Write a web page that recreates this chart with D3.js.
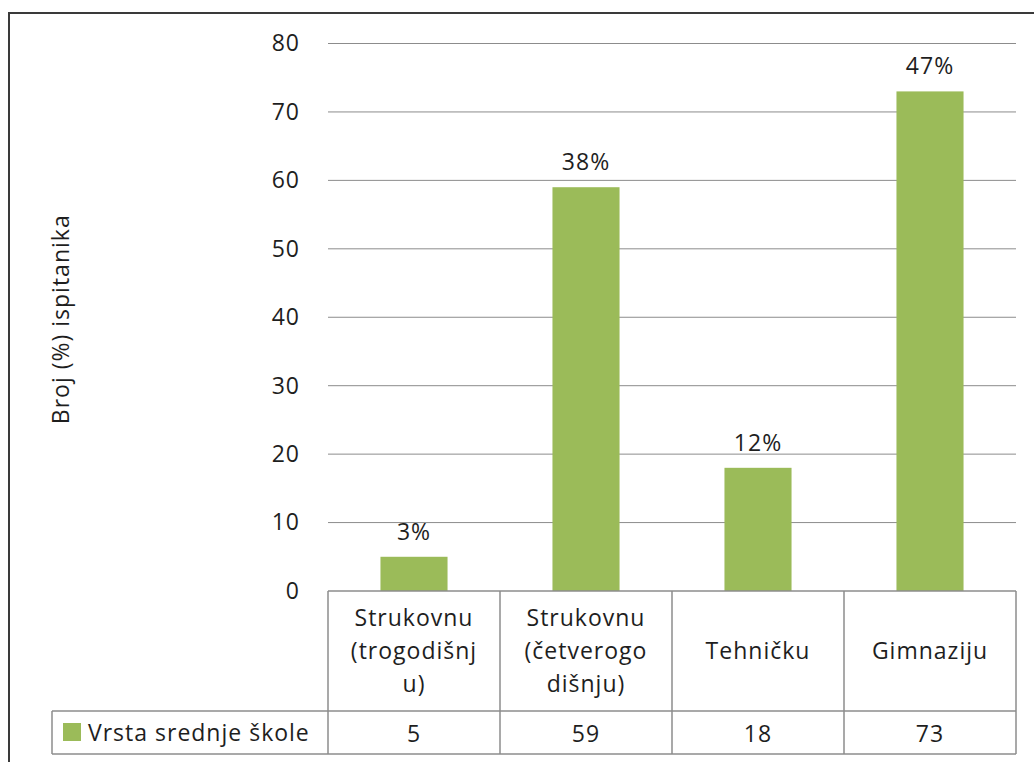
<!DOCTYPE html>
<html>
<head>
<meta charset="utf-8">
<script src="https://cdn.jsdelivr.net/npm/d3@7"></script>
<style>
  body { margin: 0; background: #fff; }
  text { font-family: "Open Sans", Lato, sans-serif; fill: #1e1e1e; letter-spacing: 1px; }
</style>
</head>
<body>
<svg id="chart" width="1034" height="762"></svg>
<script>
// chart values
const categories = [
  ["Strukovnu", "(trogodišnj", "u)"],
  ["Strukovnu", "(četverogo", "dišnju)"],
  ["Tehničku"],
  ["Gimnaziju"]
];
const values = [5, 59, 18, 73];
const percentLabels = ["3%", "38%", "12%", "47%"];
const yTicks = [0, 10, 20, 30, 40, 50, 60, 70, 80];
const seriesName = "Vrsta srednje škole";
const yTitle = "Broj (%) ispitanika";

const green = "#9bbb59";
const gridColor = "#8c8c8c";
const fs = "23px";

const svg = d3.select("#chart");

// outer chart border (runs off the right/bottom edge like the screenshot)
svg.append("rect")
  .attr("x", 9).attr("y", 13)
  .attr("width", 1060).attr("height", 800)
  .attr("fill", "none").attr("stroke", "#3a3a3a").attr("stroke-width", 2);

const plot = { left: 328, right: 1016, top: 43.5, bottom: 591 };
const tableBottom = { header: 711, data: 754 };

const x = d3.scaleBand()
  .domain(d3.range(values.length))
  .range([plot.left, plot.right])
  .paddingInner(0).paddingOuter(0);

const y = d3.scaleLinear().domain([0, 80]).range([plot.bottom, plot.top]);

// gridlines
svg.append("g")
  .selectAll("line")
  .data(yTicks.filter(d => d > 0))
  .join("line")
  .attr("x1", plot.left).attr("x2", plot.right)
  .attr("y1", d => y(d)).attr("y2", d => y(d))
  .attr("stroke", gridColor).attr("stroke-width", 1);

// y axis labels
const yAxis = svg.append("g")
  .attr("transform", `translate(300,0)`)
  .call(d3.axisLeft(y).tickValues(yTicks).tickSize(0).tickPadding(0));
yAxis.select(".domain").remove();
yAxis.selectAll("text")
  .style("font-size", fs)
  .style("font-family", "'Open Sans', Lato, sans-serif")
  .attr("fill", "#1e1e1e");

// y title
svg.append("text")
  .attr("transform", `translate(69,${(plot.top + plot.bottom) / 2 + 2}) rotate(-90)`)
  .attr("text-anchor", "middle")
  .style("font-size", fs)
  .text(yTitle);

// bars
const barW = x.bandwidth() * 0.39;
svg.append("g")
  .selectAll("rect")
  .data(values)
  .join("rect")
  .attr("x", (d, i) => x(i) + (x.bandwidth() - barW) / 2)
  .attr("y", d => y(d))
  .attr("width", barW)
  .attr("height", d => y(0) - y(d))
  .attr("fill", green);

// percent labels
svg.append("g")
  .selectAll("text")
  .data(values)
  .join("text")
  .attr("x", (d, i) => x(i) + x.bandwidth() / 2)
  .attr("y", d => y(d) - 17)
  .attr("text-anchor", "middle")
  .style("font-size", fs)
  .text((d, i) => percentLabels[i]);

// data table lines
const tbl = svg.append("g").attr("stroke", gridColor).attr("stroke-width", 1.5).attr("fill", "none");
tbl.append("line").attr("x1", plot.left).attr("x2", plot.right)
  .attr("y1", plot.bottom).attr("y2", plot.bottom);
tbl.append("line").attr("x1", 52).attr("x2", plot.right)
  .attr("y1", tableBottom.header).attr("y2", tableBottom.header);
tbl.append("line").attr("x1", 52).attr("x2", plot.right)
  .attr("y1", tableBottom.data).attr("y2", tableBottom.data);
tbl.append("line").attr("x1", 52).attr("x2", 52)
  .attr("y1", tableBottom.header).attr("y2", tableBottom.data);
tbl.selectAll("line.v")
  .data(d3.range(values.length + 1))
  .join("line").attr("class", "v")
  .attr("x1", i => i < values.length ? x(i) : plot.right)
  .attr("x2", i => i < values.length ? x(i) : plot.right)
  .attr("y1", plot.bottom).attr("y2", tableBottom.data);

// category labels (multi-line)
const catG = svg.append("g")
  .selectAll("text")
  .data(categories)
  .join("text")
  .attr("text-anchor", "middle")
  .style("font-size", fs)
  .attr("x", (d, i) => x(i) + x.bandwidth() / 2)
  .attr("y", d => (plot.bottom + tableBottom.header) / 2 + 8 - (d.length - 1) * 33 / 2);
catG.selectAll("tspan")
  .data(d => d)
  .join("tspan")
  .attr("x", function () { return this.parentNode.getAttribute("x"); })
  .attr("dy", (d, j) => j === 0 ? 0 : 33)
  .text(d => d);

// data row values
svg.append("g")
  .selectAll("text")
  .data(values)
  .join("text")
  .attr("x", (d, i) => x(i) + x.bandwidth() / 2)
  .attr("y", (tableBottom.header + tableBottom.data) / 2 + 9)
  .attr("text-anchor", "middle")
  .style("font-size", fs)
  .text(d => d);

// legend key in table
svg.append("rect")
  .attr("x", 63).attr("y", 723).attr("width", 18).attr("height", 18)
  .attr("fill", green);
svg.append("text")
  .attr("x", 88).attr("y", (tableBottom.header + tableBottom.data) / 2 + 8)
  .style("font-size", fs)
  .text(seriesName);
</script>
</body>
</html>
